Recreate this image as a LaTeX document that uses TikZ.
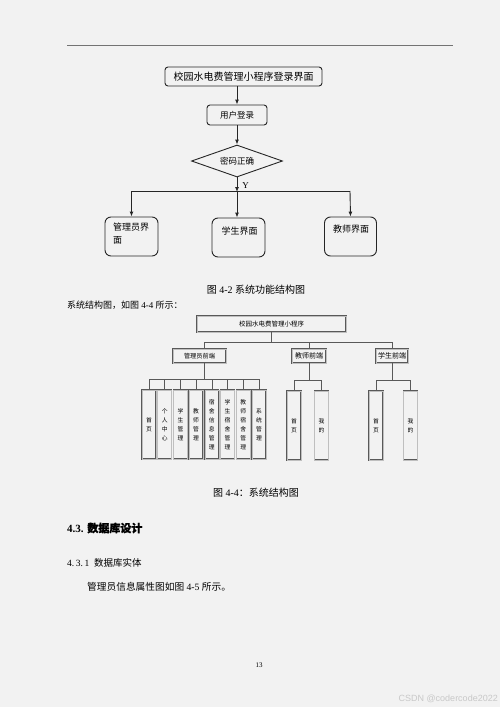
\documentclass[tikz,border=0pt]{standalone}
\usepackage{fontspec}
\setmainfont{Liberation Serif}
\newfontfamily\cjk{Noto Sans CJK SC}
\newfontfamily\cjkb[FakeBold=1]{Noto Sans CJK SC}
\newfontfamily\wm{Liberation Sans}
\usetikzlibrary{shapes.geometric,arrows.meta}
\definecolor{pagebg}{RGB}{242,242,242}
\definecolor{wmcol}{RGB}{200,200,200}
\tikzset{
  flowbox/.style={draw=black!85, line width=0.9pt, rounded corners=3pt, inner sep=0pt},
  bigbox/.style={draw=black!85, line width=0.9pt, rounded corners=6pt, inner sep=0pt},
  flowarrow/.style={draw=black!85, line width=0.9pt, -{Latex[length=5pt,width=4pt]}},
  flowline/.style={draw=black!85, line width=0.9pt},
  treebox/.style={draw=black!65, line width=0.35pt, double=black!25, double distance=0.6pt, inner sep=0pt},
  treeline/.style={draw=black!65, line width=0.6pt},
  vbox/.style={treebox, minimum width=14pt, minimum height=69pt, align=center,
     font=\cjk\fontsize{5.8}{9}\selectfont},
  txt/.style={inner sep=0pt, font=\cjk\fontsize{9}{11}\selectfont},
  mixtxt/.style={inner sep=0pt, font=\fontsize{9}{11}\selectfont},
  captxt/.style={inner sep=0pt, font=\fontsize{10}{12}\selectfont}
}
\begin{document}
\begin{tikzpicture}[x=1pt,y=-1pt]
\useasboundingbox (0,0) rectangle (500,707);
\fill[pagebg] (0,0) rectangle (500,707);
% header rule
\coordinate (hl) at (67,45);
\coordinate (hr) at (453,45);
\draw[black!55, line width=0.6pt] (hl) -- (hr);

% ---------- flow chart ----------
\node[flowbox, minimum width=157pt, minimum height=19pt, font=\cjk\fontsize{10}{12}\selectfont] (t1) at (243.5,76.5) {校园水电费管理小程序登录界面};
\node[flowbox, minimum width=60pt, minimum height=20pt, font=\cjk\fontsize{8.5}{10}\selectfont] (u) at (237,115) {用户登录};
\node[diamond, draw=black!85, line width=0.9pt, inner sep=0pt, aspect=2.8, minimum width=91pt, minimum height=32pt, font=\cjk\fontsize{8.5}{10}\selectfont] (d) at (237,161) {密码正确};
\draw[flowarrow] (t1.south -| u.north) -- (u.north);
\draw[flowarrow] (u.south) -- (d.north);
\coordinate (jm) at (237,191);
\coordinate (jl) at (131.5,191);
\coordinate (jr) at (350,191);
\draw[flowarrow] (d.south) -- ([yshift=-1pt]jm);
\node[inner sep=0pt, font=\fontsize{9}{10}\selectfont] (ylab) at (245.5,186) {Y};
\draw[flowline] (jl) -- (jr);
\node[bigbox, minimum width=53pt, minimum height=39pt] (a) at (131.5,236.5) {};
\node[bigbox, minimum width=53pt, minimum height=39pt] (b) at (238.5,237.5) {};
\node[bigbox, minimum width=52pt, minimum height=39pt] (c) at (350.5,236.5) {};
\draw[flowarrow] (jl) -- (a.north);
\draw[flowarrow] (jm) -- (jm |- b.north);
\draw[flowarrow] (jr) -- (c.north);
\node[txt, anchor=north west, align=left, font=\cjk\fontsize{9}{13}\selectfont] (at) at (113,223) {管理员界\\面};
\node[txt] (bt) at (239.5,231) {学生界面};
\node[txt] (ct) at (351,229) {教师界面};

\node[captxt] (cap1) at (256,290) {{\cjk 图} 4-2 {\cjk 系统功能结构图}};
\node[mixtxt, anchor=west] (p1) at (67,305) {{\cjk 系统结构图，如图} 4-4 {\cjk 所示：}};

% ---------- structure tree ----------
\node[treebox, minimum width=149pt, minimum height=16pt, font=\cjk\fontsize{6.5}{8}\selectfont] (top) at (271.5,324) {校园水电费管理小程序};
\node[treebox, minimum width=53pt, minimum height=14pt, font=\cjk\fontsize{6.2}{8}\selectfont] (m) at (199.5,356) {管理员前端};
\node[treebox, minimum width=34pt, minimum height=14pt, font=\cjk\fontsize{7}{8}\selectfont] (tf) at (309,356) {教师前端};
\node[treebox, minimum width=32pt, minimum height=14pt, font=\cjk\fontsize{7}{8}\selectfont] (sf) at (392,356) {学生前端};
\coordinate (mx) at (204,342);
\coordinate (tx) at (309,342);
\coordinate (sx) at (392,342);
\draw[treeline] (top.south) -- (top.south |- mx);
\draw[treeline] (mx) -- (sx);
\draw[treeline] (mx) -- (mx |- m.north);
\draw[treeline] (tx) -- (tf.north);
\draw[treeline] (sx) -- (sf.north);

% admin children
\foreach \i/\t in {1/首\\页, 2/个\\人\\中\\心, 3/学\\生\\管\\理, 4/教\\师\\管\\理, 5/宿\\舍\\信\\息\\管\\理, 6/学\\生\\宿\\舍\\管\\理, 7/教\\师\\宿\\舍\\管\\理, 8/系\\统\\管\\理}{
  \node[vbox] (m\i) at ({149+(\i-1)*15.7},424.5) {\t};
}
\coordinate (mb) at (204,379);
\draw[treeline] (mx |- m.south) -- (mb);
\draw[treeline] (mb -| m1.north) -- (mb -| m8.north);
\foreach \i in {1,...,8}{
  \draw[treeline] (mb -| m\i.north) -- (m\i.north);
}
% teacher children
\node[vbox] (t1c) at (294,425.5) {首\\页};
\node[vbox] (t2c) at (321.5,425.5) {我\\的};
\coordinate (tb) at (309,380);
\draw[treeline] (tf.south) -- (tb);
\draw[treeline] (tb -| t1c.north) -- (tb -| t2c.north);
\draw[treeline] (tb -| t1c.north) -- (t1c.north);
\draw[treeline] (tb -| t2c.north) -- (t2c.north);
% student children
\node[vbox] (s1c) at (376,425.5) {首\\页};
\node[vbox] (s2c) at (410.5,425.5) {我\\的};
\coordinate (sb) at (392,380);
\draw[treeline] (sf.south) -- (sb);
\draw[treeline] (sb -| s1c.north) -- (sb -| s2c.north);
\draw[treeline] (sb -| s1c.north) -- (s1c.north);
\draw[treeline] (sb -| s2c.north) -- (s2c.north);

\node[captxt] (cap2) at (256,493) {{\cjk 图} 4-4{\cjk ：系统结构图}};

% ---------- text ----------
\node[inner sep=0pt, anchor=west, font=\fontsize{11}{13}\selectfont\bfseries] (h1) at (67,528) {4.3. {\cjkb 数据库设计}};
\node[inner sep=0pt, anchor=west, font=\fontsize{9.5}{11}\selectfont] (h2) at (67,563) {4.\,3.\,1\enspace{\cjk 数据库实体}};
\node[inner sep=0pt, anchor=west, font=\fontsize{9.7}{11}\selectfont] (p2) at (87,587) {{\cjk 管理员信息属性图如图} 4-5 {\cjk 所示。}};
\node[inner sep=0pt, font=\fontsize{7}{8}\selectfont] (pg) at (259,665) {13};
\node[inner sep=0pt, anchor=east, text=wmcol, font=\wm\fontsize{9}{10}\selectfont] (wmk) at (498,699) {CSDN @codercode2022};
\end{tikzpicture}
\end{document}
